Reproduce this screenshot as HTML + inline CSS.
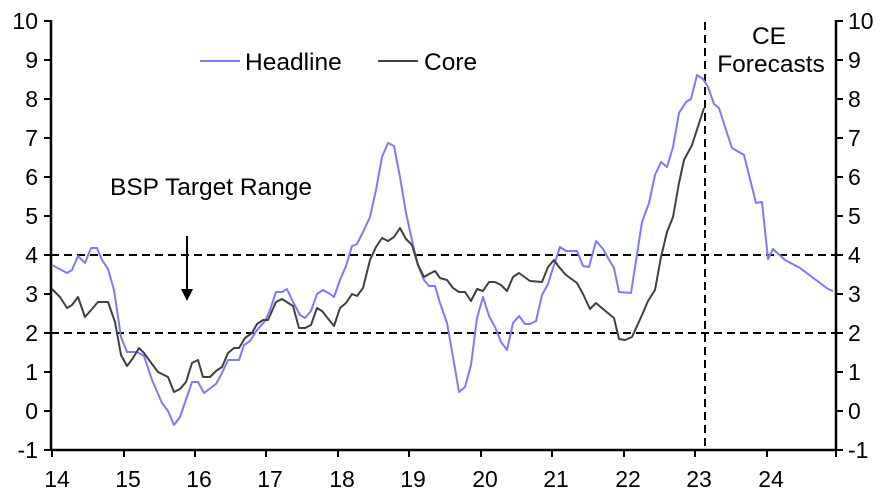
<!DOCTYPE html>
<html><head><meta charset="utf-8"><style>
body{margin:0;background:#fff}
svg text{font-family:"Liberation Sans",Arial,sans-serif;fill:#000}
</style></head><body>
<svg width="889" height="497" viewBox="0 0 889 497" xmlns="http://www.w3.org/2000/svg">
<g stroke="#000" stroke-width="2" stroke-dasharray="8,5" fill="none">
<line x1="51" y1="255" x2="836" y2="255"/>
<line x1="51" y1="333" x2="836" y2="333"/>
<line x1="705" y1="22" x2="705" y2="450"/>
</g>
<g stroke="#000" stroke-width="2.5" fill="none">
<line x1="51" y1="20" x2="51" y2="450"/>
<line x1="836" y1="20" x2="836" y2="450"/>
<line x1="51" y1="450" x2="836" y2="450"/>
</g>
<g stroke="#000" stroke-width="2">
<line x1="44" y1="21" x2="51" y2="21"/><line x1="44" y1="60" x2="51" y2="60"/><line x1="44" y1="99" x2="51" y2="99"/><line x1="44" y1="138" x2="51" y2="138"/><line x1="44" y1="177" x2="51" y2="177"/><line x1="44" y1="216" x2="51" y2="216"/><line x1="44" y1="255" x2="51" y2="255"/><line x1="44" y1="294" x2="51" y2="294"/><line x1="44" y1="333" x2="51" y2="333"/><line x1="44" y1="372" x2="51" y2="372"/><line x1="44" y1="411" x2="51" y2="411"/><line x1="44" y1="450" x2="51" y2="450"/>
<line x1="836" y1="21" x2="843" y2="21"/><line x1="836" y1="60" x2="843" y2="60"/><line x1="836" y1="99" x2="843" y2="99"/><line x1="836" y1="138" x2="843" y2="138"/><line x1="836" y1="177" x2="843" y2="177"/><line x1="836" y1="216" x2="843" y2="216"/><line x1="836" y1="255" x2="843" y2="255"/><line x1="836" y1="294" x2="843" y2="294"/><line x1="836" y1="333" x2="843" y2="333"/><line x1="836" y1="372" x2="843" y2="372"/><line x1="836" y1="411" x2="843" y2="411"/><line x1="836" y1="450" x2="843" y2="450"/>
<line x1="52" y1="450" x2="52" y2="457"/><line x1="124" y1="450" x2="124" y2="457"/><line x1="195" y1="450" x2="195" y2="457"/><line x1="266" y1="450" x2="266" y2="457"/><line x1="338" y1="450" x2="338" y2="457"/><line x1="409" y1="450" x2="409" y2="457"/><line x1="481" y1="450" x2="481" y2="457"/><line x1="552" y1="450" x2="552" y2="457"/><line x1="624" y1="450" x2="624" y2="457"/><line x1="695" y1="450" x2="695" y2="457"/><line x1="767" y1="450" x2="767" y2="457"/><line x1="836" y1="450" x2="836" y2="457"/>
</g>
<g font-size="23" text-anchor="end">
<text x="38" y="29">10</text><text x="38" y="68">9</text><text x="38" y="107">8</text><text x="38" y="146">7</text><text x="38" y="185">6</text><text x="38" y="224">5</text><text x="38" y="263">4</text><text x="38" y="302">3</text><text x="38" y="341">2</text><text x="38" y="380">1</text><text x="38" y="419">0</text><text x="38" y="458">-1</text>
</g>
<g font-size="23" text-anchor="start">
<text x="848" y="29">10</text><text x="848" y="68">9</text><text x="848" y="107">8</text><text x="848" y="146">7</text><text x="848" y="185">6</text><text x="848" y="224">5</text><text x="848" y="263">4</text><text x="848" y="302">3</text><text x="848" y="341">2</text><text x="848" y="380">1</text><text x="848" y="419">0</text><text x="848" y="458">-1</text>
</g>
<g font-size="23" text-anchor="middle">
<text x="57" y="487">14</text><text x="128" y="487">15</text><text x="199" y="487">16</text><text x="270" y="487">17</text><text x="342" y="487">18</text><text x="413" y="487">19</text><text x="485" y="487">20</text><text x="556" y="487">21</text><text x="628" y="487">22</text><text x="699" y="487">23</text><text x="771" y="487">24</text>
</g>
<polyline fill="none" stroke="#7b7bf7" stroke-width="2" stroke-linejoin="round" points="52,265 67,273 72,270 78,256 85,263 91,248 97,248 102,260 108,269 114,290 121,337 127,352 137,352 144,356 152,380 162,403 168,411 174,425 180,417 192,382 198,382 204,393 216,384 222,373 228,360 239,360 244,345 250,341 257,330 265,321 270,310 276,292 282,292 287,289 293,302 300,315 305,318 311,311 317,294 323,290 330,294 334,297 340,280 346,266 352,246 357,244 363,232 370,217 376,190 382,157 388,143 394,146 400,177 406,213 413,245 418,265 424,280 429,286 435,286 440,303 447,323 453,357 459,392 465,387 471,365 477,318 483,297 489,316 495,327 501,342 507,350 513,323 519,316 525,324 530,324 536,321 542,295 548,284 553,268 560,247 566,251 577,251 583,266 589,267 596,241 603,249 608,258 614,268 619,292 631,293 642,222 649,203 655,175 661,162 667,167 673,147 679,113 686,102 691,99 697,75 703,79 708,87 714,104 719,108 726,130 732,148 744,155 756,203 762,202 768,259 773,249 785,260 800,268 828,289 833,291"/>
<polyline fill="none" stroke="#404040" stroke-width="2" stroke-linejoin="round" points="52,289 60,297 67,308 72,305 78,297 85,317 98,302 108,302 115,322 121,355 127,366 133,358 139,348 144,353 152,364 158,372 168,377 174,392 180,389 186,382 192,363 198,360 203,377 210,377 216,371 222,367 228,353 234,348 239,348 245,338 252,333 257,324 263,320 268,320 276,302 282,299 293,306 299,328 305,328 311,325 317,308 322,311 330,321 334,326 340,308 346,303 352,294 357,296 363,288 370,260 376,247 382,238 388,241 394,237 400,228 406,239 412,245 418,265 424,277 429,274 435,271 440,278 447,280 453,288 459,292 465,292 471,301 477,289 483,291 489,282 495,282 501,285 507,291 513,277 519,273 530,281 542,282 548,267 554,260 559,267 566,275 577,283 583,294 590,309 596,303 603,309 614,318 619,339 625,340 632,337 642,315 648,301 655,290 661,257 667,232 673,217 679,183 684,160 692,145 704,108"/>
<line x1="200" y1="61" x2="240" y2="61" stroke="#7b7bf7" stroke-width="2"/>
<text x="245" y="70" font-size="24.5">Headline</text>
<line x1="378" y1="61" x2="418" y2="61" stroke="#404040" stroke-width="2"/>
<text x="424" y="70" font-size="24.5">Core</text>
<text x="110" y="195" font-size="24.5">BSP Target Range</text>
<line x1="187" y1="236" x2="187" y2="290" stroke="#000" stroke-width="2"/>
<polygon points="181,289 193,289 187,301" fill="#000"/>
<text x="769" y="44" font-size="24.5" text-anchor="middle">CE</text>
<text x="771" y="72" font-size="24.5" text-anchor="middle">Forecasts</text>
</svg>
</body></html>
